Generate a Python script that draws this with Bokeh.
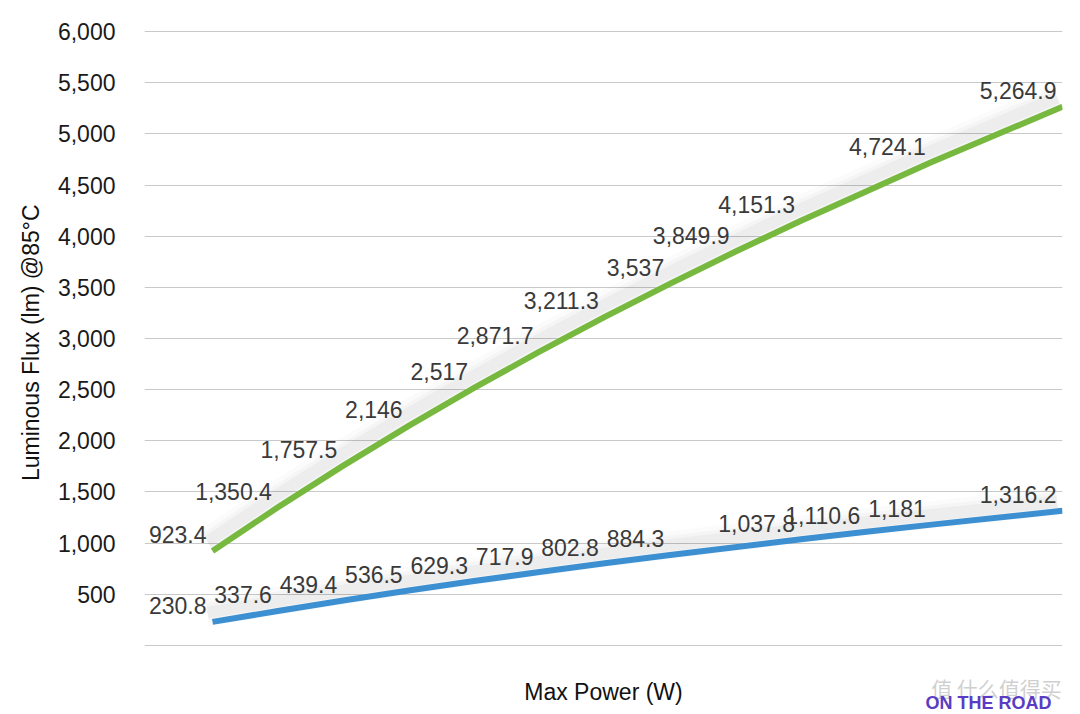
from bokeh.plotting import figure
from bokeh.models import Range1d, FixedTicker, NumeralTickFormatter, ColumnDataSource
from bokeh.embed import file_html
from bokeh.resources import INLINE
from bokeh.core.properties import value

# Evenly spaced power steps (x axis carries no tick labels in the reference)
green_x = [0, 1, 2, 3, 4, 5, 6, 7, 8, 9, 11, 13]
green_lm = [923.4, 1350.4, 1757.5, 2146, 2517, 2871.7, 3211.3, 3537, 3849.9, 4151.3, 4724.1, 5264.9]
blue_x = [0, 1, 2, 3, 4, 5, 6, 7, 9, 10, 11, 13]
blue_lm = [230.8, 337.6, 439.4, 536.5, 629.3, 717.9, 802.8, 884.3, 1037.8, 1110.6, 1181, 1316.2]
y_ticks = [0, 500, 1000, 1500, 2000, 2500, 3000, 3500, 4000, 4500, 5000, 5500, 6000]

x_title = "Max Power (W)"
y_title = "Luminous Flux (lm) @85°C"

GREEN = "#77b83f"
BLUE = "#3c8fd0"
FONT = "Liberation Sans"

green_src = ColumnDataSource(dict(x=green_x, y=green_lm, t=["{:,}".format(v) for v in green_lm]))
blue_src = ColumnDataSource(dict(x=blue_x, y=blue_lm, t=["{:,}".format(v) for v in blue_lm]))

X0, X1 = -1.04, 13
LM_PER_PX = 6020 / 616.0
BELOW = 66                  # px of canvas under the 0 gridline
Y0 = -10 - BELOW * LM_PER_PX
Y1 = 6010


def below(px):
    """data y for a point px pixels under the 0 gridline"""
    return -10 - px * LM_PER_PX


p = figure(frame_width=918, frame_height=616 + BELOW,
           x_range=Range1d(X0, X1), y_range=Range1d(Y0, Y1),
           output_backend="svg", toolbar_location=None,
           min_border_left=144, min_border_right=10, min_border_top=30, min_border_bottom=0)
p.outline_line_color = None
p.background_fill_color = "white"
p.border_fill_color = "white"
p.xaxis.visible = False

# shadow ranges (shift drawing slightly up and left)
p.extra_y_ranges = {"sh": Range1d(Y0 - 90, Y1 - 90)}
p.extra_x_ranges = {"sh": Range1d(X0 + 0.08, X1 + 0.08)}

# grid
p.xgrid.visible = False
p.ygrid.ticker = FixedTicker(ticks=y_ticks)
p.ygrid.grid_line_color = "#c9c9c9"
p.ygrid.grid_line_width = 1

# y axis
ya = p.yaxis[0]
ya.ticker = FixedTicker(ticks=y_ticks)
ya.formatter = NumeralTickFormatter(format="0,0")
ya.major_label_overrides = {0: ""}
ya.axis_line_color = None
ya.major_tick_line_color = None
ya.minor_tick_line_color = None
ya.major_label_standoff = 23
ya.major_label_text_font = FONT
ya.major_label_text_font_size = "23px"
ya.major_label_text_color = "#1a1a1a"
# leading no-break spaces keep the visible title centred on the gridded area
ya.axis_label = "\u00a0" * 9 + y_title
ya.axis_label_text_font = FONT
ya.axis_label_text_font_size = "23px"
ya.axis_label_text_font_style = "normal"
ya.axis_label_text_color = "#111111"
ya.axis_label_standoff = 11

# soft shadows under the lines
for src in (green_src, blue_src):
    for w, a in ((28, 0.015), (19, 0.022), (12, 0.032)):
        p.line("x", "y", source=src, line_width=w, line_color="#000000", line_alpha=a,
               x_range_name="sh", y_range_name="sh", line_join="round")

p.line("x", "y", source=green_src, line_width=6, line_color=GREEN, line_join="round")
p.line("x", "y", source=blue_src, line_width=6, line_color=BLUE, line_join="round")

for src in (green_src, blue_src):
    p.text("x", "y", text="t", source=src, text_align="right", text_baseline="middle",
           x_offset=-6, y_offset=-16, text_font=value(FONT), text_font_size="23px",
           text_color="#3a3a3a")

# x-axis title (centred under the gridded area)
p.text(x=[(X0 + X1) / 2], y=[below(45)], text=[x_title], text_align="center",
       text_baseline="middle", text_font=value(FONT), text_font_size="23px",
       text_color="#111111")

# watermark logo (bottom right)
p.text(x=[(996 - 212) / 65.385], y=[below(41)], text=["值 什么值得买"],
       text_align="center", text_baseline="middle",
       text_font=value("Noto Sans CJK SC"), text_font_size="21px",
       text_color="#c4c4c4", text_alpha=0.8)
p.text(x=[(988 - 212) / 65.385], y=[below(56)], text=["ON THE ROAD"],
       text_align="center", text_baseline="middle", text_font=value(FONT),
       text_font_style="bold", text_font_size="18px", text_color="#5a3cc4")

open("out.html", "w").write(file_html(p, INLINE))
